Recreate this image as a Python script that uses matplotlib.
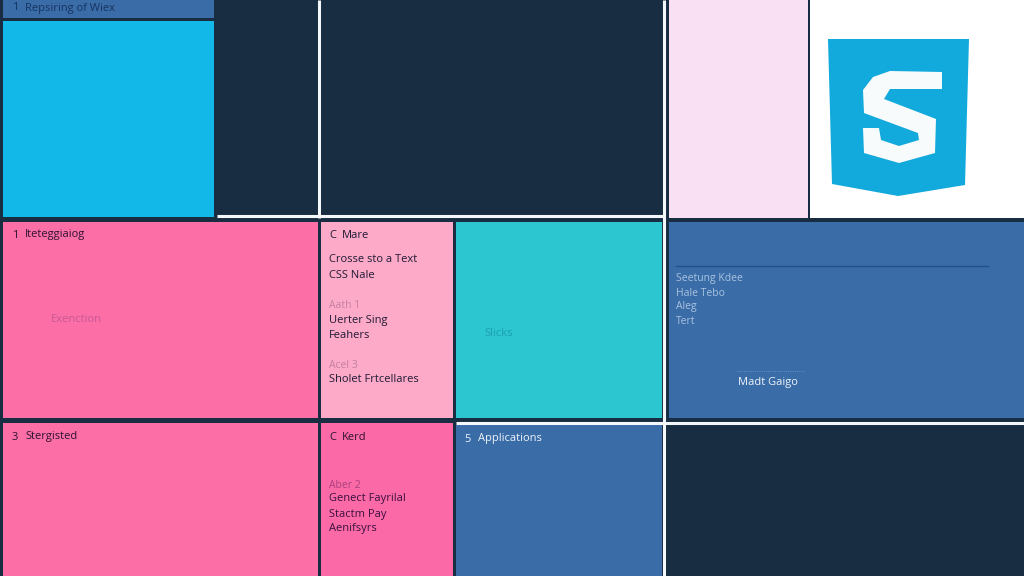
import matplotlib
matplotlib.use('Agg')
import matplotlib.pyplot as plt
from matplotlib.patches import Rectangle, Polygon

plt.rcParams['font.family'] = ['Open Sans', 'DejaVu Sans']

navy = '#182d42'
blue = '#3a6ca8'
pink = '#fb6ea6'

# tiles: x0, y0, x1, y1, colour
tiles = [
    (3, 0, 214, 18, blue),
    (3, 21, 214, 217, '#12b8e8'),
    (669, 0, 808, 218, '#f9e0f3'),
    (810, 0, 1024, 218, '#ffffff'),
    (3, 222, 318, 418, pink),
    (321, 222, 453, 418, '#fdaac9'),
    (456, 222, 662, 418, '#2bc6d0'),
    (669, 222, 1024, 418, blue),
    (3, 423, 318, 576, pink),
    (321, 423, 453, 576, '#fb6aa6'),
    (456, 425, 662, 576, blue),
]

# white separators: x0, y0, x1, y1
separators = [
    (319, 0, 319, 218),
    (217, 216, 663, 216),
    (664, 0, 664, 576),
    (456, 423, 1024, 423),
]

# text: x, y, string, colour, size
labels = [
    (12, 8, '1', '#17345f', 8),
    (25, 8, 'Repsiring of Wiex', '#17345f', 8),
    (12, 235, '1', '#2e1232', 8),
    (25, 235, 'Iteteggiaiog', '#2e1232', 8),
    (51, 320, 'Exenction', '#c95a98', 8),
    (329, 235, 'C', '#1f1a34', 8),
    (342, 235, 'Mare', '#1f1a34', 8),
    (329, 260, 'Crosse sto a Text', '#1f1a34', 8),
    (329, 275, 'CSS Nale', '#1f1a34', 8),
    (329, 306, 'Aath 1', '#c47fa0', 7.5),
    (329, 321, 'Uerter Sing', '#1f1a34', 8),
    (329, 336, 'Feahers', '#1f1a34', 8),
    (329, 365, 'Acel 3', '#c47fa0', 7.5),
    (329, 379, 'Sholet Frtcellares', '#1f1a34', 8),
    (484, 333, 'Slicks', '#1f9fb4', 8),
    (676, 279, 'Seetung Kdee', '#a9c2df', 7.5),
    (676, 293, 'Hale Tebo', '#a9c2df', 7.5),
    (676, 307, 'Aleg', '#a9c2df', 7.5),
    (676, 321, 'Tert', '#a9c2df', 7.5),
    (738, 382, 'Madt Gaigo', '#eef3f9', 8),
    (12, 437, '3', '#2e1232', 8),
    (25, 437, 'Stergisted', '#2e1232', 8),
    (329, 437, 'C', '#2e1232', 8),
    (342, 437, 'Kerd', '#2e1232', 8),
    (329, 486, 'Aber 2', '#a8407f', 7.5),
    (329, 499, 'Genect Fayrilal', '#3a1040', 8),
    (329, 514, 'Stactm Pay', '#3a1040', 8),
    (329, 528, 'Aenifsyrs', '#3a1040', 8),
    (464, 439, '5', '#eef3f9', 8),
    (478, 439, 'Applications', '#eef3f9', 8),
]

shield = [(828, 39), (969, 39), (965, 185), (898, 196), (832, 184)]
s_shape = [(942, 72), (942, 89), (890, 89), (884, 99), (936, 119), (935, 153),
           (899, 163), (864, 153), (863, 128), (879, 128), (881, 140), (899, 146),
           (919, 140), (918, 133), (864, 113), (863, 90), (873, 77), (890, 71)]

fig = plt.figure(figsize=(10.24, 5.76), dpi=100, facecolor=navy)
ax = fig.add_axes([0, 0, 1, 1])
ax.set_xlim(0, 1024)
ax.set_ylim(576, 0)
ax.axis('off')

for x0, y0, x1, y1, c in tiles:
    ax.add_patch(Rectangle((x0, y0), x1 - x0, y1 - y0, facecolor=c, edgecolor='none'))

for x0, y0, x1, y1 in separators:
    ax.plot([x0, x1], [y0, y1], color='#f4f8fa', linewidth=2.2, solid_capstyle='butt')

# thin rules in the blue tile
ax.plot([676, 988], [266, 266], color='#245089', linewidth=1)
ax.plot([737, 805], [370.5, 370.5], color='#7d9fc8', linewidth=0.6, linestyle=':')

ax.add_patch(Polygon(shield, closed=True, facecolor='#12a9dc', edgecolor='none'))
ax.add_patch(Polygon(s_shape, closed=True, facecolor='#f8fbfc', edgecolor='none'))

for x, y, s, c, size in labels:
    ax.text(x, y, s, color=c, fontsize=size, va='center', ha='left', fontweight='medium')

fig.savefig('out.png', dpi=100, facecolor=navy)
